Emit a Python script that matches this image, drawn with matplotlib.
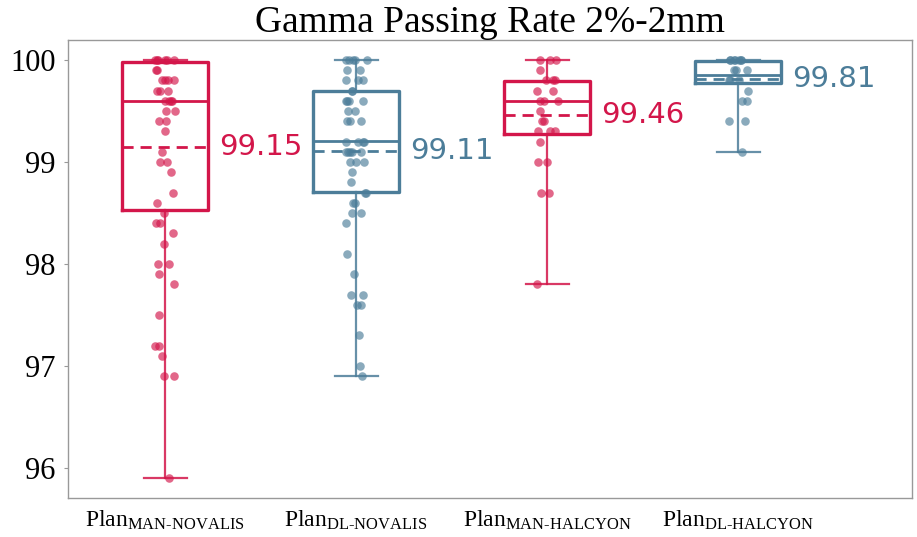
import numpy as np
import matplotlib
matplotlib.use("Agg")
import matplotlib.pyplot as plt

# Gamma passing rate (2%/2mm) per plan group
groups = ["MAN\u2010NOVALIS", "DL\u2010NOVALIS", "MAN\u2010HALCYON", "DL\u2010HALCYON"]

man_novalis = [100.0, 100.0, 100.0, 100.0, 100.0, 100.0, 99.9, 99.9,
               99.8, 99.8, 99.8, 99.8, 99.7, 99.7, 99.7, 99.6, 99.6, 99.6, 99.6,
               99.5, 99.5, 99.4, 99.4, 99.3, 99.1, 99.0, 99.0, 98.9, 98.7, 98.6,
               98.5, 98.4, 98.4, 98.3, 98.2, 98.0, 98.0, 97.9, 97.8, 97.5,
               97.2, 97.2, 97.1, 96.9, 96.9, 95.9]
dl_novalis = [100.0, 100.0, 100.0, 100.0, 100.0, 99.9, 99.9, 99.8, 99.8, 99.8,
              99.7, 99.7, 99.6, 99.6, 99.6, 99.6, 99.5, 99.5, 99.4, 99.4, 99.4,
              99.2, 99.2, 99.2, 99.2, 99.1, 99.1, 99.1, 99.1, 99.1, 99.0, 99.0, 99.0,
              98.9, 98.8, 98.7, 98.7, 98.6, 98.6, 98.5, 98.5, 98.4, 98.1, 97.9,
              97.7, 97.7, 97.6, 97.6, 97.3, 97.0, 96.9]
man_halcyon = [100.0, 100.0, 100.0, 99.9, 99.8, 99.8, 99.8, 99.7, 99.7,
               99.6, 99.6, 99.6, 99.5, 99.4, 99.4, 99.3, 99.3, 99.3, 99.2,
               99.0, 99.0, 98.7, 98.7, 97.8]
dl_halcyon = [100.0, 100.0, 100.0, 100.0, 100.0, 100.0, 100.0, 99.9, 99.9, 99.9,
              99.8, 99.8, 99.8, 99.7, 99.6, 99.6, 99.4, 99.4, 99.1]
values = [man_novalis, dl_novalis, man_halcyon, dl_halcyon]

# box statistics as drawn in the figure
q1 = [98.53, 98.71, 99.27, 99.775]
med = [99.60, 99.21, 99.60, 99.85]
q3 = [99.98, 99.70, 99.79, 99.99]
whislo = [95.9, 96.9, 97.8, 99.1]
whishi = [100.0, 100.0, 100.0, 100.0]
means = [99.15, 99.11, 99.46, 99.81]

RED = "#D3164A"
BLUE = "#4C7D99"
colors = [RED, BLUE, RED, BLUE]

plt.rcParams["mathtext.fontset"] = "custom"
plt.rcParams["mathtext.rm"] = "Liberation Serif"
plt.rcParams["mathtext.it"] = "Liberation Serif:italic"

fig = plt.figure(figsize=(9.17, 5.37), dpi=100)
ax = fig.add_axes([0.0742, 0.0726, 0.9203, 0.8529])

positions = np.arange(len(groups))
box_w = 0.45
rng = np.random.default_rng(11)

for i, pos in enumerate(positions):
    c = colors[i]
    stats = [{"q1": q1[i], "med": med[i], "q3": q3[i], "whislo": whislo[i],
              "whishi": whishi[i], "mean": means[i], "fliers": []}]
    ax.bxp(stats, positions=[pos], widths=box_w, showmeans=True, meanline=True,
           showfliers=False, manage_ticks=False,
           boxprops=dict(color=c, linewidth=2.4),
           medianprops=dict(color=c, linewidth=2.0),
           meanprops=dict(color=c, linewidth=2.0, linestyle=(0, (4, 2.5))),
           whiskerprops=dict(color=c, linewidth=1.6, alpha=0.85),
           capprops=dict(color=c, linewidth=1.6, alpha=0.85))

    v = np.array(values[i])
    xs = pos + rng.uniform(-0.055, 0.055, len(v))
    ax.scatter(xs, v, s=38, color=c, alpha=0.65, linewidths=0, zorder=3)

    ax.text(pos + box_w / 2 + 0.06, means[i], f"{means[i]:.2f}", color=c,
            fontsize=21, family="DejaVu Sans", ha="left", va="center")

ax.set_xlim(-0.508, 3.91)
ax.set_ylim(95.706, 100.196)
ax.set_yticks([96, 97, 98, 99, 100])
ax.set_yticklabels(["96", "97", "98", "99", "100"], family="Liberation Serif", fontsize=22)
ax.set_xticks(positions)
ax.set_xticklabels([r"Plan$_{\mathregular{%s}}$" % g for g in groups],
                   family="Liberation Serif", fontsize=17)
ax.tick_params(axis="x", length=0, pad=8)
ax.tick_params(axis="y", length=3, width=0.8, color="#999999", pad=6)

for side in ["left", "bottom", "right", "top"]:
    ax.spines[side].set_color("#999999")
    ax.spines[side].set_linewidth(1.0)

ax.set_title("Gamma Passing Rate 2%-2mm", family="Liberation Serif", fontsize=27, pad=3)

fig.savefig("out.png", dpi=100)
